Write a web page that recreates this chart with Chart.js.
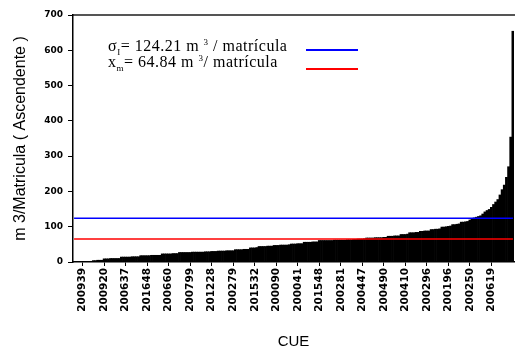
<!DOCTYPE html>
<html>
<head>
<meta charset="utf-8">
<script src="https://cdn.jsdelivr.net/npm/chart.js@4/dist/chart.umd.min.js"></script>
<style>
  body { margin: 0; background: #fff; }
  #wrap { position: relative; width: 517px; height: 352px; }
  #legend { position: absolute; left: 108px; top: 38px; font: 16px "Liberation Serif", serif; letter-spacing: 0.5px; line-height: 16px; color: #000; white-space: nowrap; }
  #legend sub, #legend sup { font-size: 9px; line-height: 0; }
  .swatch { position: absolute; left: 306px; width: 52px; height: 0; border-top: 2px solid; }
</style>
</head>
<body>
<div id="wrap">
  <canvas id="chart" width="517" height="352"></canvas>
  <div id="legend">
    <div>σ<sub>I</sub>= 124.21 m <sup>3</sup> / matrícula</div>
    <div>x<sub>m</sub>= 64.84 m <sup>3</sup>/ matrícula</div>
  </div>
  <div class="swatch" style="top:49px;border-color:#0000ff"></div>
  <div class="swatch" style="top:68px;border-color:#ff0000"></div>
</div>
<script>
// m3 per matricula, sorted ascending (one bar per CUE)
const values = [
  0, 0, 0, 0, 1, 1, 1, 1, 2,
  4, 4, 5, 5, 5,
  9, 9, 9, 10, 10, 10, 10, 10,
  14, 14, 14, 14, 14, 15, 15, 15, 15,
  18, 18, 18, 18, 18, 19, 19, 19, 19, 19,
  23, 23, 23, 23, 23, 24, 24, 24,
  27, 27, 27, 27, 27, 27, 28, 28, 28, 28, 28, 28, 29, 29, 29,
  30, 30, 30, 31, 31, 31, 31, 32, 32, 32, 32,
  35, 35, 35, 35, 36, 36, 36,
  40, 40, 40, 41,
  44, 44, 44, 44, 45, 45, 45,
  47, 47, 47, 48, 48, 48, 48, 49,
  51, 51, 51, 52, 52, 52,
  56, 56, 56, 56, 57, 57, 57,
  61, 61, 61, 61, 61, 61, 61, 62, 62, 62, 62, 62, 62, 63, 63, 63,
  64, 64, 65, 65, 65, 66,
  68, 68, 68, 68, 69, 69, 69, 69, 70, 70,
  73, 73, 73, 74, 74, 74,
  78, 78, 78, 79,
  83, 83, 83, 84, 84,
  87, 87, 88, 88, 88,
  92, 92, 93, 93, 94,
  99, 99, 100, 101, 102,
  106, 106, 107, 108,
  113, 113, 114, 115,
  119, 121,
  125, 127, 129, 131,
  136, 142,
  146, 149,
  155, 163, 170, 177, 190,
  205, 218, 240, 270, 354, 654
];

// CUE codes that are printed under the axis (every 10th bar)
const cueLabels = [
  '200939', '200920', '200637', '201648', '200660', '200799', '201228', '200279',
  '201532', '200090', '200041', '201548', '200281', '200447', '200490', '200410',
  '200296', '200196', '200250', '200619'
];
const firstLabel = 4;
const labelStep = 10;

const sigma = 124.21;
const mean = 64.84;

const labels = values.map((v, i) => {
  const k = (i - firstLabel) / labelStep;
  return Number.isInteger(k) && cueLabels[k] ? cueLabels[k] : '';
});

const data = {
  labels,
  datasets: [{
    type: 'line',
    label: 'sigma',
    data: values.map(() => sigma),
    borderColor: '#0000ff',
    borderWidth: 1.5,
    pointRadius: 0,
    order: 0,
  }, {
    type: 'line',
    label: 'media',
    data: values.map(() => mean),
    borderColor: '#ff0000',
    borderWidth: 1.5,
    pointRadius: 0,
    order: 0,
  }, {
    type: 'bar',
    label: 'm3/matricula',
    data: values,
    backgroundColor: '#000',
    borderWidth: 0,
    barPercentage: 1,
    categoryPercentage: 1,
    order: 1,
  }]
};

new Chart(document.getElementById('chart'), {
  type: 'bar',
  data,
  options: {
    responsive: false,
    animation: false,
    devicePixelRatio: 1,
    layout: { padding: { top: 15, right: 3, left: 0, bottom: 0 } },
    plugins: { legend: { display: false }, tooltip: { enabled: false } },
    scales: {
      x: {
        grid: {
          offset: false,
          drawOnChartArea: false,
          tickLength: 4,
          color: '#000',
        },
        border: { color: '#000', width: 1.5 },
        ticks: {
          autoSkip: false,
          minRotation: 90,
          maxRotation: 90,
          padding: 2,
          color: '#000',
          font: { family: 'DejaVu Sans', size: 10.5, weight: 'bold' },
          callback: (v, i) => labels[i] ? labels[i] : null,
        },
        title: {
          display: true,
          text: 'CUE',
          color: '#000',
          font: { family: 'Arial', size: 15 },
          padding: { top: 0, bottom: 1 },
        },
        afterFit: s => { s.height = 90; },
      },
      x2: {
        type: 'category',
        position: 'top',
        labels,
        grid: { display: false },
        ticks: { display: false },
        border: { color: '#555', width: 2 },
        afterFit: s => { s.height = 0; },
      },
      y: {
        min: 0,
        max: 700,
        ticks: {
          stepSize: 100,
          padding: 5,
          color: '#000',
          font: { family: 'DejaVu Sans', size: 9, weight: 'bold' },
        },
        grid: {
          drawOnChartArea: false,
          tickLength: 5,
          color: '#000',
        },
        border: { color: '#000', width: 1.5 },
        title: {
          display: true,
          text: 'm 3/Matricula ( Ascendente )',
          color: '#000',
          font: { family: 'Arial', size: 16 },
          padding: { top: 11, bottom: 0 },
        },
        afterFit: s => { s.width = 73; },
      }
    }
  }
});
</script>
</body>
</html>
